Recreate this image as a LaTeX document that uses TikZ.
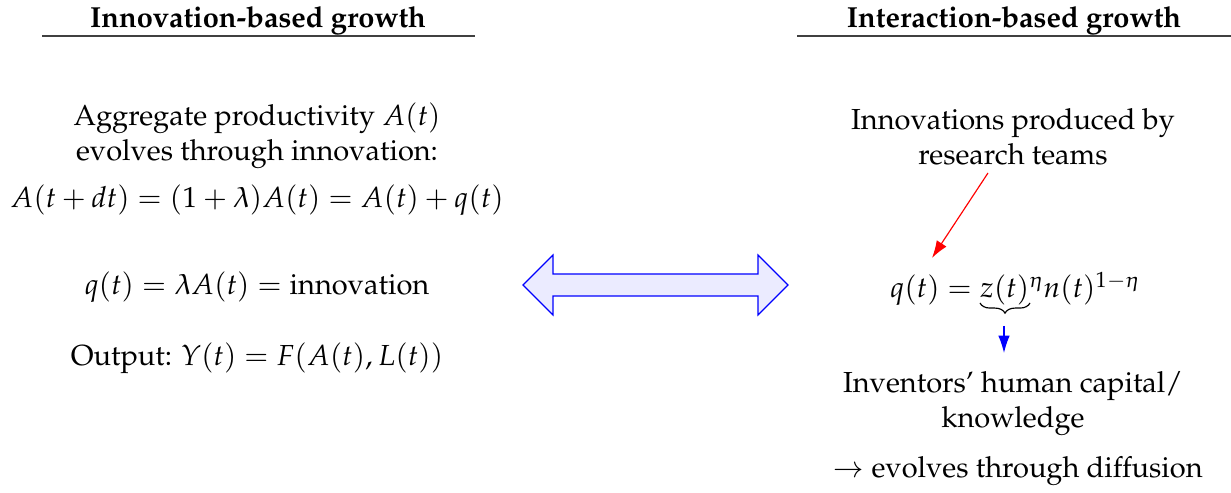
\documentclass[tikz,border=0pt]{standalone}
\usepackage[T1]{fontenc}
\usepackage{amsmath}
\usepackage{palatino}
\usepackage{mathpple}
\usetikzlibrary{arrows.meta,decorations.pathreplacing}
\begin{document}
\begin{tikzpicture}[x=0.3448pt, y=-0.3448pt,
  txt/.style={align=center, inner sep=0pt, font=\fontsize{10}{12}\selectfont},
  head/.style={inner sep=0pt, font=\fontsize{10}{12}\selectfont\bfseries},
  rulel/.style={draw=black!75, line width=0.4pt},
  conn/.style={-{Latex[length=6pt,width=4pt]}, line width=0.4pt}]
\useasboundingbox (0,0) rectangle (1231,493);
% headers
\node[head, anchor=base] (hl) at (258,28) {Innovation-based growth};
\node[head, anchor=base] (hr) at (1014,28) {Interaction-based growth};
\coordinate (hl1) at (42,36); \coordinate (hl2) at (475,36);
\coordinate (hr1) at (797,36); \coordinate (hr2) at (1231,36);
\draw[rulel] (hl1) -- (hl2);
\draw[rulel] (hr1) -- (hr2);
% left column
\node[txt] (agg) at (257,136) {Aggregate productivity $A(t)$\\ evolves through innovation:};
\node[txt] (eq1) at (257,200) {$A(t+dt)=(1+\lambda)A(t)=A(t)+q(t)$};
\node[txt] (eq2) at (257,287) {$q(t)=\lambda A(t)=\text{innovation}$};
\node[txt] (out) at (257,358) {Output: $Y(t)=F(A(t),L(t))$};
% double arrow
\draw[blue, fill=blue!8, line width=0.4pt] (523,285) -- (553,255) -- (553,274) -- (758,274) -- (758,255) -- (788,285) -- (758,315) -- (758,296) -- (553,296) -- (553,315) -- cycle;
% right column
\node[txt] (inno) at (1013,137) {Innovations produced by\\ research teams};
\node[txt] (qeq) at (1015,289) {$q(t)=z(t)^{\eta}n(t)^{1-\eta}$};
\coordinate (bz1) at (1030,303); \coordinate (bz2) at (980,303);
\draw[decorate, decoration={brace, amplitude=3.5pt}, line width=0.4pt] (bz1) -- (bz2);
\node[txt] (inv) at (1013,404) {Inventors' human capital/\\ knowledge};
\node[txt] (diff) at (1018,471) {$\rightarrow$ evolves through diffusion};
\coordinate (r1) at (988,173); \coordinate (r2) at (932,258);
\draw[red, conn] (r1) -- (r2);
\coordinate (b1) at (1004,326); \coordinate (b2) at (1004,353);
\draw[blue, conn] (b1) -- (b2);
\end{tikzpicture}
\end{document}
